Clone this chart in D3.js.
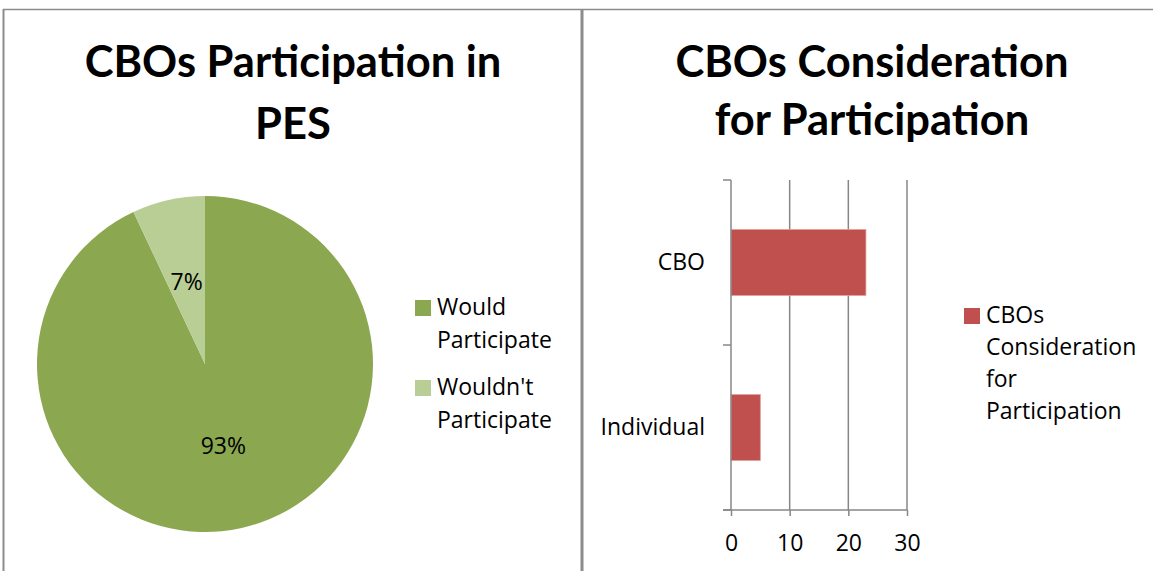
<!DOCTYPE html>
<html>
<head>
<meta charset="utf-8">
<script src="https://cdn.jsdelivr.net/npm/d3@7/dist/d3.min.js"></script>
<style>
  html, body { margin: 0; padding: 0; background: #fff; }
  svg { display: block; font-family: "Open Sans", Lato, sans-serif; }
</style>
</head>
<body>
<svg id="chart" width="1153" height="571"></svg>
<script>
// Pie: participation shares (percent)
const pieCategories = ["Would Participate", "Wouldn't Participate"];
const pieValues = [93, 7];
const pieColors = ["#8BA74F", "#B9CE95"];

// Bar: consideration counts
const barCategories = ["CBO", "Individual"];
const barValues = [23, 5];
const barSeriesName = "CBOs Consideration for Participation";
const barTicks = [0, 10, 20, 30];
const barColor = "#C0504D";

const svg = d3.select("#chart");
const gridColor = "#878787";
const textColor = "#000";
const bodyFont = "'Open Sans', Lato, sans-serif";
const bodySize = 23;

// Panel frames
svg.append("line").attr("x1", 3).attr("x2", 1153).attr("y1", 9.5).attr("y2", 9.5)
  .attr("stroke", "#8c8c8c").attr("stroke-width", 1.5);
svg.append("line").attr("x1", 3.5).attr("x2", 3.5).attr("y1", 9).attr("y2", 571)
  .attr("stroke", "#8c8c8c").attr("stroke-width", 2);
svg.append("line").attr("x1", 582).attr("x2", 582).attr("y1", 9).attr("y2", 571)
  .attr("stroke", "#8c8c8c").attr("stroke-width", 3);

function title(lines, cx, ys) {
  const t = svg.append("text").attr("text-anchor", "middle")
    .attr("font-family", "Lato, 'Open Sans', sans-serif")
    .attr("font-weight", "bold").attr("font-size", 43.5).attr("fill", textColor);
  lines.forEach((l, i) => t.append("tspan").attr("x", cx).attr("y", ys[i]).text(l));
}

// ---------- Pie chart ----------
title(["CBOs Participation in", "PES"], 293, [77, 139]);

const cx = 205, cy = 364, r = 168;
const pie = d3.pie().sort(null).value(d => d);
const arcs = pie(pieValues);
const arc = d3.arc().innerRadius(0).outerRadius(r);
const pg = svg.append("g").attr("transform", `translate(${cx},${cy})`);
pg.selectAll("path").data(arcs).join("path")
  .attr("d", arc).attr("fill", (d, i) => pieColors[i]);

const labelArc = d3.arc().innerRadius(r * 0.5).outerRadius(r * 0.5);
pg.selectAll("text.lbl").data(arcs).join("text")
  .attr("class", "lbl")
  .attr("transform", d => {
    const c = labelArc.centroid(d);
    return `translate(${c[0]},${c[1]})`;
  })
  .attr("text-anchor", "middle").attr("dy", "0.35em")
  .attr("font-size", bodySize).attr("fill", textColor)
  .text(d => d.data + "%");

// Pie legend
const pieLegend = [["Would", "Participate"], ["Wouldn't", "Participate"]];
pieLegend.forEach((lines, i) => {
  const y0 = 307 + i * 80;
  svg.append("rect").attr("x", 415).attr("y", y0 - 7).attr("width", 16).attr("height", 16)
    .attr("fill", pieColors[i]);
  const t = svg.append("text").attr("font-size", bodySize).attr("fill", textColor);
  lines.forEach((l, j) => t.append("tspan").attr("x", 437).attr("y", y0 + 8 + j * 33).text(l));
});

// ---------- Bar chart ----------
title(["CBOs Consideration", "for Participation"], 872, [77, 135]);

const x = d3.scaleLinear().domain([0, 30]).range([731, 907]);
const y = d3.scaleBand().domain(barCategories).range([180, 510]).paddingInner(0).paddingOuter(0);

// Vertical gridlines
svg.append("g").selectAll("line").data(barTicks.slice(1)).join("line")
  .attr("x1", d => x(d)).attr("x2", d => x(d)).attr("y1", 180).attr("y2", 510)
  .attr("stroke", gridColor).attr("stroke-width", 1.5);

// Bars
const barBand = y.bandwidth() * 0.4;
svg.append("g").selectAll("rect").data(barValues).join("rect")
  .attr("x", x(0))
  .attr("y", (d, i) => y(barCategories[i]) + (y.bandwidth() - barBand) / 2)
  .attr("width", d => x(d) - x(0))
  .attr("height", barBand)
  .attr("fill", barColor)
  .attr("stroke", "#E0A09E").attr("stroke-width", 0.8);

// X axis
const xAxis = d3.axisBottom(x).tickValues(barTicks).tickSize(6).tickPadding(19);
const xg = svg.append("g").attr("transform", "translate(0,510)").call(xAxis);
xg.select(".domain").remove();
xg.append("line").attr("x1", 723).attr("x2", 907).attr("y1", 0).attr("y2", 0)
  .attr("stroke", gridColor).attr("stroke-width", 1.5);
xg.selectAll(".tick line").attr("stroke", gridColor).attr("stroke-width", 1.5);
xg.selectAll(".tick text").attr("font-size", bodySize).attr("fill", textColor)
  .attr("font-family", bodyFont);

// Y axis
const yEdges = [180, 345, 510];
const yAxis = d3.axisLeft(y).tickSize(0).tickPadding(26);
const yg = svg.append("g").attr("transform", `translate(${x(0)},0)`).call(yAxis);
yg.select(".domain").attr("stroke", gridColor).attr("stroke-width", 1.5)
  .attr("d", "M0,180V510");
yg.selectAll(".tick text").attr("font-size", bodySize).attr("fill", textColor)
  .attr("font-family", bodyFont);
yg.selectAll("line.edge").data(yEdges).join("line").attr("class", "edge")
  .attr("x1", -8).attr("x2", 0).attr("y1", d => d).attr("y2", d => d)
  .attr("stroke", gridColor).attr("stroke-width", 1.5);

// Bar legend
svg.append("rect").attr("x", 964).attr("y", 308).attr("width", 16).attr("height", 16)
  .attr("fill", barColor);
const lt = svg.append("text").attr("font-size", bodySize).attr("fill", textColor);
["CBOs", "Consideration", "for", "Participation"].forEach((l, j) =>
  lt.append("tspan").attr("x", 986).attr("y", 323 + j * 32).text(l));
</script>
</body>
</html>
